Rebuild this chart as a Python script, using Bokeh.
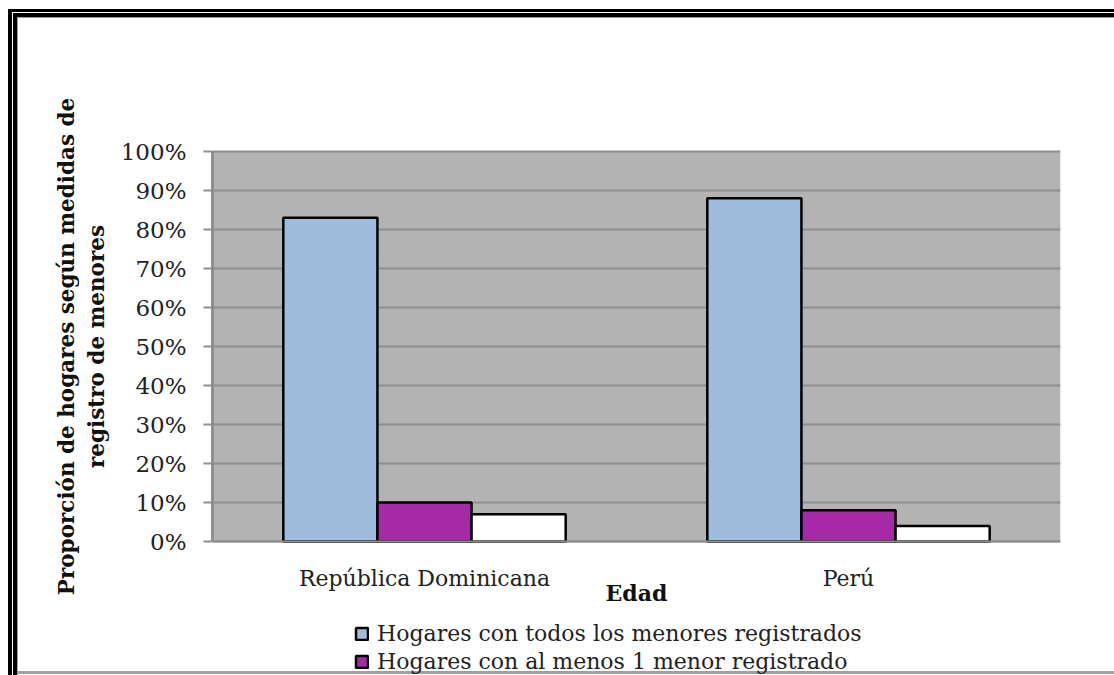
from bokeh.plotting import figure
from bokeh.models import (ColumnDataSource, FactorRange, Range1d, FixedTicker,
                          NumeralTickFormatter, Legend, LegendItem, BoxAnnotation)
from bokeh.transform import dodge
from bokeh.embed import file_html
from bokeh.resources import INLINE

# ---- data ----
countries = ["República Dominicana", "Perú"]
todos_registrados = [0.83, 0.88]
al_menos_uno = [0.10, 0.08]
ninguno_registrado = [0.07, 0.04]
y_ticks = [0.0, 0.1, 0.2, 0.3, 0.4, 0.5, 0.6, 0.7, 0.8, 0.9, 1.0]
series_names = ["Hogares con todos los menores registrados",
                "Hogares con al menos 1 menor registrado"]
x_title = "Edad"
y_title = "Proporción de hogares según medidas de\nregistro de menores"

# ---- layout ----
W, H = 1114, 675
LEFT, RIGHT = 212, 54
FRAME_TOP = 17                    # canvas top of the (transparent) frame
PLOT_TOP = 151                    # canvas y of the 100% line
PLOT_H = 390                      # height of the grey plotting area (0%..100%)
BELOW_H = H - PLOT_TOP - PLOT_H   # room under the 0% line for labels + legend
ABOVE_H = PLOT_TOP - FRAME_TOP    # empty room above the 100% line
FONT = "DejaVu Serif"
BAR_W = 0.222

source = ColumnDataSource(dict(country=countries, todos=todos_registrados,
                               uno=al_menos_uno, ninguno=ninguno_registrado))

p = figure(x_range=FactorRange(factors=countries, range_padding=0),
           y_range=Range1d(-BELOW_H / PLOT_H, 1 + ABOVE_H / PLOT_H),
           width=W, height=H,
           output_backend="svg", toolbar_location=None,
           min_border_left=LEFT, min_border_right=RIGHT,
           min_border_top=FRAME_TOP, min_border_bottom=0)

p.background_fill_alpha = 0
p.border_fill_alpha = 0
p.outline_line_color = None

# outer double frame on the left and top, grey rule at the bottom
p.styles = {
    "background-color": "white",
    "box-shadow": ", ".join([
        "inset 8px 9px 0 0 white",
        "inset 12px 12px 0 0 black",
        "inset 13px 13px 0 0 white",
        "inset 17px 17px 0 0 black",
        "inset 18px 18px 0 0 #a0a0a0",
        "inset 0 -1px 0 0 white",
        "inset 0 -4px 0 0 #a0a0a0",
    ]),
}

# grey plotting area between 0% and 100%
p.add_layout(BoxAnnotation(bottom=y_ticks[0], top=y_ticks[-1], fill_color="#b3b3b3",
                           fill_alpha=1, line_alpha=0, level="image"))

r1 = p.vbar(x=dodge("country", -BAR_W, range=p.x_range), top="todos", width=BAR_W,
            source=source, fill_color="#a0bcdd", line_color="black", line_width=2.5)
r2 = p.vbar(x=dodge("country", 0, range=p.x_range), top="uno", width=BAR_W,
            source=source, fill_color="#a629a7", line_color="black", line_width=2.5)
r3 = p.vbar(x=dodge("country", BAR_W, range=p.x_range), top="ninguno", width=BAR_W,
            source=source, fill_color="white", line_color="black", line_width=2.5)

# grid
p.xgrid.grid_line_color = None
p.ygrid.ticker = FixedTicker(ticks=y_ticks)
p.ygrid.grid_line_color = "#8e8e8e"
p.ygrid.grid_line_width = 2

# y axis
ya = p.yaxis[0]
ya.ticker = FixedTicker(ticks=y_ticks)
ya.bounds = (y_ticks[0], y_ticks[-1])
ya.formatter = NumeralTickFormatter(format="0%")
ya.minor_tick_line_color = None
ya.major_tick_in = 0
ya.major_tick_out = 9
ya.major_tick_line_color = "#8e8e8e"
ya.major_tick_line_width = 2
ya.axis_line_color = "#8e8e8e"
ya.axis_line_width = 3
ya.major_label_text_font = FONT
ya.major_label_text_font_size = "23px"
ya.major_label_text_color = "#222222"
ya.major_label_standoff = 17
ya.axis_label = y_title
ya.axis_label_text_font = FONT
ya.axis_label_text_font_style = "bold"
ya.axis_label_text_font_size = "21.5px"
ya.axis_label_text_color = "#111111"
ya.axis_label_text_line_height = 1.2
ya.axis_label_standoff = 9

# x axis, pinned to the 0% line
xa = p.xaxis[0]
xa.fixed_location = y_ticks[0]
xa.major_tick_line_color = None
xa.minor_tick_line_color = None
xa.major_tick_out = 0
xa.axis_line_color = "#8e8e8e"
xa.axis_line_width = 2
xa.major_label_text_font = FONT
xa.major_label_text_font_size = "22px"
xa.major_label_text_color = "#222222"
xa.major_label_standoff = 24
xa.axis_label = x_title
xa.axis_label_text_font = FONT
xa.axis_label_text_font_style = "bold"
xa.axis_label_text_font_size = "22px"
xa.axis_label_text_color = "#111111"
xa.axis_label_standoff = -14

# legend under the axis title (offset from the frame's lower-left corner)
legend = Legend(items=[LegendItem(label=series_names[0], renderers=[r1]),
                       LegendItem(label=series_names[1], renderers=[r2])],
                location=(142, 0), orientation="vertical",
                padding=0, margin=0, spacing=0,
                glyph_width=15, glyph_height=15, label_standoff=8,
                label_height=28,
                label_text_font=FONT, label_text_font_size="22px",
                label_text_color="#222222",
                border_line_color=None, background_fill_alpha=0)
p.add_layout(legend, "center")

open("out.html", "w").write(file_html(p, INLINE))
